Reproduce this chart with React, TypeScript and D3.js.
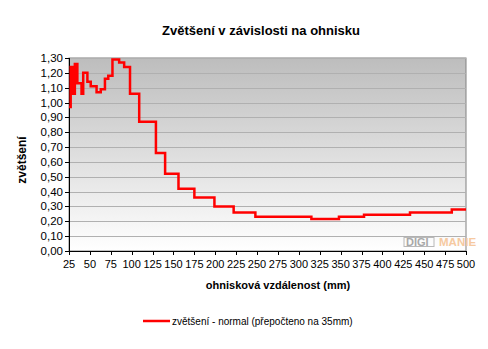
import React from "react";
import * as d3 from "d3";

const focal = [25, 27, 30, 32, 35, 40, 42, 47, 51, 58, 63, 68, 72, 77, 85, 91, 98, 109, 129, 140, 156, 175, 199, 222, 248, 315, 348, 378, 433, 483, 500];
const zoom = [0.97, 1.24, 1.06, 1.26, 1.13, 1.06, 1.2, 1.14, 1.11, 1.07, 1.09, 1.16, 1.18, 1.29, 1.27, 1.24, 1.06, 0.87, 0.66, 0.52, 0.42, 0.36, 0.3, 0.26, 0.23, 0.215, 0.23, 0.245, 0.26, 0.28, 0.28];
const xTicks = [25, 50, 75, 100, 125, 150, 175, 200, 225, 250, 275, 300, 325, 350, 375, 400, 425, 450, 475, 500];
const yTicks = [0, 0.1, 0.2, 0.3, 0.4, 0.5, 0.6, 0.7, 0.8, 0.9, 1.0, 1.1, 1.2, 1.3];
const title = "Zvětšení v závislosti na ohnisku";
const xLabel = "ohnisková vzdálenost (mm)";
const yLabel = "zvětšení";
const seriesName = "zvětšení - normal (přepočteno na 35mm)";

const W = 488, H = 349;
const L = 69, R = 466, T = 58, B = 251;
const font = "'Liberation Sans', Arial, sans-serif";

export default function App() {
  const x = d3.scaleLinear().domain([25, 500]).range([L, R]);
  const y = d3.scaleLinear().domain([0, 1.3]).range([B, T]);
  const pts: [number, number][] = focal.map((f, i) => [f, zoom[i]]);
  const line = d3.line<[number, number]>().x(d => x(d[0])).y(d => y(d[1])).curve(d3.curveStepAfter);
  const fmt = (v: number) => v.toFixed(2).replace(".", ",");
  return (
    <svg width={W} height={H} style={{ position: "absolute", left: 0, top: 0, background: "#fff" }} fontFamily={font}>
      <defs>
        <linearGradient id="bg" x1="0" y1="0" x2="0" y2="1">
          <stop offset="0" stopColor="#bdbdbd" />
          <stop offset="1" stopColor="#ffffff" />
        </linearGradient>
      </defs>
      <text x={261} y={35} textAnchor="middle" fontSize={13} fontWeight="bold" fill="#000">{title}</text>
      <rect x={L} y={T} width={R - L} height={B - T} fill="url(#bg)" stroke="#808080" strokeWidth={1} />
      {yTicks.slice(1).map(t => (
        <line key={t} x1={L} x2={R} y1={Math.round(y(t)) + 0.5} y2={Math.round(y(t)) + 0.5} stroke="#b0b0b0" strokeWidth={1} />
      ))}
      <g>
        <rect x={404} y={237.5} width={30} height={9} fill="none" stroke="#b8b8b8" strokeWidth={1} />
        <text x={406} y={246} fontSize={11} fontWeight="bold" fill="#a8a8a8">DIGI</text>
        <text x={439} y={246} fontSize={11.5} fontWeight="bold" fill="#f6c9a0">MANIE</text>
      </g>
      <line x1={L + 0.5} x2={L + 0.5} y1={T} y2={B} stroke="#000" />
      <line x1={L} x2={R} y1={B + 0.5} y2={B + 0.5} stroke="#000" />
      {yTicks.map(t => (
        <g key={t}>
          <line x1={L - 4} x2={L} y1={Math.round(y(t)) + 0.5} y2={Math.round(y(t)) + 0.5} stroke="#000" />
          <text x={L - 6} y={y(t) + 4} textAnchor="end" fontSize={11.5} fill="#000">{fmt(t)}</text>
        </g>
      ))}
      {xTicks.map(t => (
        <g key={t}>
          <line x1={Math.round(x(t)) + 0.5} x2={Math.round(x(t)) + 0.5} y1={B} y2={B + 4} stroke="#000" />
          <text x={x(t)} y={268} textAnchor="middle" fontSize={11} fill="#000">{t}</text>
        </g>
      ))}
      <path d={line(pts) || ""} fill="none" stroke="#ff0000" strokeWidth={2.5} strokeLinejoin="miter" />
      <text x={278} y={289} textAnchor="middle" fontSize={11} fontWeight="bold" fill="#000">{xLabel}</text>
      <text transform={`translate(26,160) rotate(-90)`} textAnchor="middle" fontSize={12} fontWeight="bold" fill="#000">{yLabel}</text>
      <line x1={143} x2={170} y1={321} y2={321} stroke="#ff0000" strokeWidth={2.5} />
      <text x={172} y={324.5} fontSize={10} fill="#000">{seriesName}</text>
    </svg>
  );
}
